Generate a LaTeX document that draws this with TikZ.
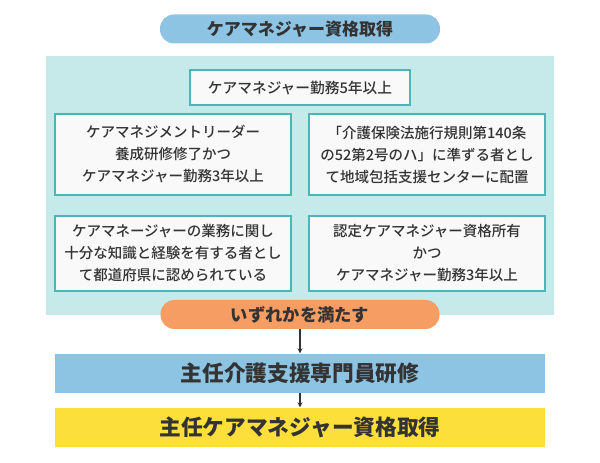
\documentclass[tikz,border=0pt]{standalone}
\usepackage{fontspec}
\setmainfont{Noto Sans CJK JP}
\newfontfamily\medfont{Noto Sans CJK JP Medium}
\usetikzlibrary{arrows.meta, positioning}

\definecolor{txtgray}{HTML}{333333}
\definecolor{pillblue}{HTML}{8EC4E3}
\definecolor{panelteal}{HTML}{C6EAE9}
\definecolor{edgeteal}{HTML}{4CB6B6}
\definecolor{boxwhite}{HTML}{F9F9F9}
\definecolor{pillorange}{HTML}{F59D63}
\definecolor{baryellow}{HTML}{FDDF3B}

\begin{document}
\begin{tikzpicture}[
    x=1pt, y=1pt,
    >=Stealth,
    pill/.style={rounded corners=14pt, minimum height=29pt, inner sep=0pt,
                 text=txtgray, font=\bfseries\fontsize{17}{20}\selectfont},
    cond/.style={draw=edgeteal, line width=1.8pt, fill=boxwhite, inner sep=0pt,
                 text=txtgray, align=center,
                 font=\medfont\fontsize{14.5}{22}\selectfont},
    bar/.style={minimum width=490pt, minimum height=39pt, inner sep=0pt,
                text=txtgray, font=\bfseries\fontsize{21.7}{25}\selectfont},
    link/.style={->, line width=1.2pt, txtgray, shorten >=0.5pt,
                 arrows={-Stealth[length=5pt, width=5pt]}}
  ]
  \useasboundingbox (0,0) rectangle (600,463);

  % teal panel behind the conditions
  \fill[panelteal] (46,148) rectangle (554,407);

  \node[pill, fill=pillblue, minimum width=280pt] (start) at (300,434)
    {ケアマネジャー資格取得};

  \node[cond, minimum width=220pt, minimum height=35pt,
        font=\medfont\fontsize{14.7}{17}\selectfont] (five) at (300,375.5)
    {ケアマネジャー勤務5年以上};
  \node[cond, minimum width=236pt, minimum height=81pt] (leader) at (173,308.5)
    {ケアマネジメントリーダー\\養成研修修了かつ\\ケアマネジャー勤務3年以上};
  \node[cond, minimum width=236pt, minimum height=81pt] (rule) at (427,308.5)
    {「介護保険法施行規則第140条\\の52第2号のハ」に準ずる者とし\\て地域包括支援センターに配置};
  \node[cond, minimum width=236pt, minimum height=75pt] (pref) at (173,209.5)
    {ケアマネージャーの業務に関し\\十分な知識と経験を有する者とし\\て都道府県に認められている};
  \node[cond, minimum width=236pt, minimum height=75pt] (cert) at (427,209.5)
    {認定ケアマネジャー資格所有\\かつ\\ケアマネジャー勤務3年以上};

  \node[pill, fill=pillorange, minimum width=279pt,
        font=\bfseries\fontsize{17.3}{20}\selectfont] (any) at (300,148.5)
    {いずれかを満たす};

  \node[bar, fill=pillblue] (course) at (300,89.5) {主任介護支援専門員研修};
  \node[bar, fill=baryellow] (goal) at (300,35.5) {主任ケアマネジャー資格取得};

  \draw[link] (any) -- (course);
  \draw[link] (course) -- (goal);
\end{tikzpicture}
\end{document}
